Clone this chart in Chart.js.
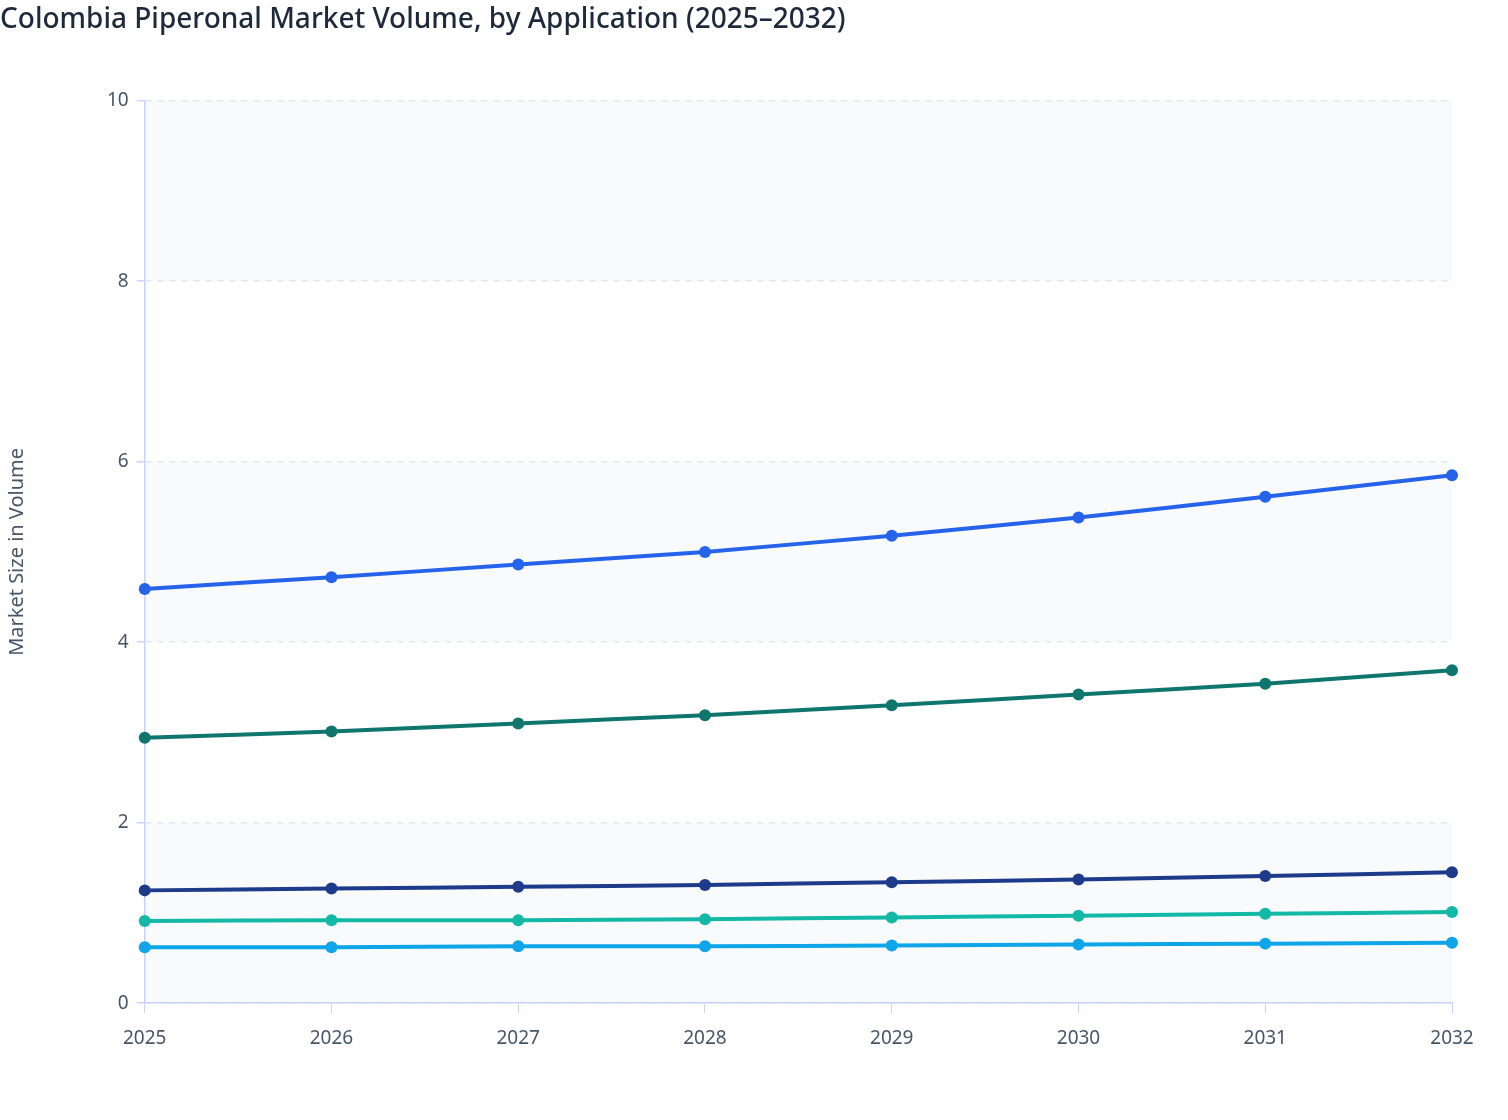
<!DOCTYPE html>
<html>
<head>
<meta charset="utf-8">
<script src="https://cdn.jsdelivr.net/npm/chart.js@4.4.1/dist/chart.umd.min.js"></script>
<style>
  html, body { margin: 0; padding: 0; background: #ffffff; }
  #wrap { width: 1508px; height: 1120px; position: relative; }
</style>
</head>
<body>
<div id="wrap"><canvas id="chart"></canvas></div>
<script>
const years = ['2025', '2026', '2027', '2028', '2029', '2030', '2031', '2032'];
const fragrances = [4.59, 4.72, 4.86, 5.00, 5.18, 5.38, 5.61, 5.85];
const flavors = [2.94, 3.01, 3.10, 3.19, 3.30, 3.42, 3.54, 3.69];
const pharmaceuticals = [1.25, 1.27, 1.29, 1.31, 1.34, 1.37, 1.41, 1.45];
const cosmetics = [0.91, 0.92, 0.92, 0.93, 0.95, 0.97, 0.99, 1.01];
const others = [0.62, 0.62, 0.63, 0.63, 0.64, 0.65, 0.66, 0.67];
const yTicks = [0, 2, 4, 6, 8, 10];

const axisColor = '#c7d2fe';
const textColor = '#475569';
const fontFamily = "'Noto Sans', 'Open Sans', sans-serif";

// light bands behind every other grid step
const bandPlugin = {
    id: 'bands',
    beforeDraw(chart) {
        const { ctx, chartArea, scales } = chart;
        const y = scales.y;
        ctx.save();
        ctx.fillStyle = '#f8fafc';
        for (let i = 0; i < yTicks.length - 1; i += 2) {
            const top = y.getPixelForValue(yTicks[i + 1]);
            const bottom = y.getPixelForValue(yTicks[i]);
            ctx.fillRect(chartArea.left, top, chartArea.right - chartArea.left, bottom - top);
        }
        ctx.restore();
    }
};

function series(label, data, color) {
    return {
        label: label,
        data: data,
        borderColor: color,
        backgroundColor: color,
        borderWidth: 4,
        pointRadius: 6,
        pointHoverRadius: 6,
        pointBorderWidth: 0,
        tension: 0.1,
        clip: false
    };
}

new Chart(document.getElementById('chart'), {
    type: 'line',
    data: {
        labels: years,
        datasets: [
            series('Fragrances', fragrances, '#2563eb'),
            series('Flavors', flavors, '#0f766e'),
            series('Pharmaceuticals', pharmaceuticals, '#1e3a8a'),
            series('Cosmetics', cosmetics, '#14b8a6'),
            series('Others', others, '#0ea5e9')
        ]
    },
    options: {
        responsive: true,
        maintainAspectRatio: false,
        animation: false,
        layout: { padding: { left: 0, right: 56, top: 0, bottom: 56 } },
        plugins: {
            legend: { display: false },
            tooltip: { enabled: false },
            title: {
                display: true,
                text: 'Colombia Piperonal Market Volume, by Application (2025–2032)',
                align: 'start',
                color: '#1e293b',
                font: { family: fontFamily, size: 28, weight: '500' },
                padding: { top: 3, bottom: 64 }
            }
        },
        scales: {
            x: {
                offset: false,
                grid: { drawOnChartArea: false, drawTicks: true, tickLength: 10, tickColor: axisColor },
                border: { color: axisColor, width: 1.5 },
                ticks: { color: textColor, font: { family: fontFamily, size: 19 }, padding: 14, maxRotation: 0 }
            },
            y: {
                min: 0,
                max: 10,
                grid: { color: '#e2e8f0', lineWidth: 1.5, tickColor: axisColor, tickLength: 8 },
                border: { color: axisColor, width: 1.5, dash: [6, 6] },
                ticks: { stepSize: 2, color: textColor, font: { family: fontFamily, size: 19 }, padding: 8 },
                title: {
                    display: true,
                    text: 'Market Size in Volume',
                    color: textColor,
                    font: { family: fontFamily, size: 20 },
                    padding: { top: 5, bottom: 70 }
                }
            }
        }
    },
    plugins: [bandPlugin]
});
</script>
</body>
</html>
